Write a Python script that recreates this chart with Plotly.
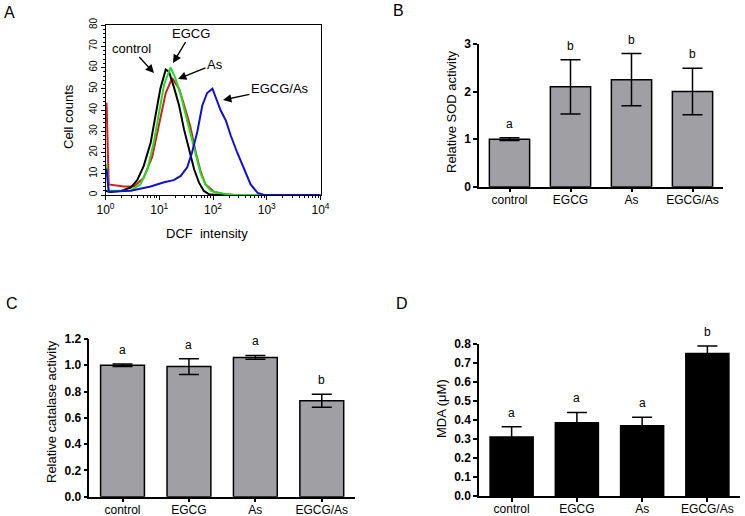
import numpy as np
import plotly.graph_objects as go

W, H = 745, 516

groups = ["control", "EGCG", "As", "EGCG/As"]

# Panel A: DCF flow cytometry histograms (log10 intensity, cell counts)
control_log = [0.0, 0.09, 0.30, 0.47, 0.59, 0.71, 0.84, 0.93, 1.02, 1.12, 1.18, 1.27, 1.37,
               1.46, 1.55, 1.65, 1.74, 1.83, 1.93, 2.1, 4.0]
control_cnt = [2, 1.4, 2, 3.5, 7, 13.6, 24.6, 37, 50, 59, 58, 51, 42, 31, 21.5, 12, 5.8, 1.9, 0.3, 0, 0]

as_log = [0.0, 0.02, 0.06, 0.34, 0.53, 0.71, 0.87, 0.99, 1.12, 1.24, 1.37, 1.49, 1.58,
          1.68, 1.77, 1.86, 2.02, 2.2, 2.4, 4.0]
as_cnt = [43, 43, 5, 4, 4, 8, 18, 33, 48, 55, 50, 40, 32, 20, 11, 5, 1.5, 0.5, 0, 0]

egcg_log = [0.0, 0.02, 0.06, 0.47, 0.65, 0.78, 0.90, 0.99, 1.09, 1.21, 1.30, 1.40, 1.49,
            1.58, 1.68, 1.77, 1.86, 1.96, 2.08, 2.2, 2.4, 4.0]
egcg_cnt = [14, 14, 2, 2, 5, 12, 25, 38, 52, 60, 55, 47, 38, 28, 18, 10, 5, 2, 1, 0.5, 0, 0]

combo_log = [0.0, 0.02, 0.06, 0.47, 0.84, 1.09, 1.27, 1.40, 1.52, 1.61, 1.71, 1.80, 1.89,
             1.99, 2.05, 2.14, 2.24, 2.33, 2.45, 2.58, 2.70, 2.83, 2.95, 4.0]
combo_cnt = [12, 12, 1.5, 2, 4, 6, 7, 9, 13, 20, 30, 42, 48, 50, 46, 40, 35, 28, 20, 12, 5, 1, 0, 0]

# Panel B: relative SOD activity
sod_mean = [1.0, 2.1, 2.25, 2.0]
sod_err = [0.03, 0.57, 0.55, 0.49]
sod_letters = ["a", "b", "b", "b"]
sod_ticks = [0, 1, 2, 3]

# Panel C: relative catalase activity
cat_mean = [1.0, 0.99, 1.06, 0.73]
cat_err = [0.01, 0.06, 0.015, 0.05]
cat_letters = ["a", "a", "a", "b"]
cat_ticks = [0.0, 0.2, 0.4, 0.6, 0.8, 1.0, 1.2]

# Panel D: MDA
mda_mean = [0.31, 0.385, 0.37, 0.75]
mda_err = [0.055, 0.055, 0.045, 0.04]
mda_letters = ["a", "a", "a", "b"]
mda_ticks = [0.0, 0.1, 0.2, 0.3, 0.4, 0.5, 0.6, 0.7, 0.8]

FONT = "Liberation Sans, Arial, sans-serif"
GREY = "#a0a0a4"


def px_x(p):
    return p / W


def px_y(p):
    return 1 - p / H


fig = go.Figure()

# histogram lines
hist = [
    (as_log, as_cnt, "#d81e1e", "As"),
    (control_log, control_cnt, "#000000", "control"),
    (egcg_log, egcg_cnt, "#1ee01e", "EGCG"),
    (combo_log, combo_cnt, "#1010d0", "EGCG/As"),
]
for logs, cnt, col, name in hist:
    fig.add_trace(go.Scatter(
        x=10 ** np.array(logs), y=cnt, mode="lines", name=name,
        line=dict(color=col, width=2), xaxis="x", yaxis="y",
    ))

# bar panels
bar_panels = [
    (sod_mean, sod_err, GREY, "x2", "y2"),
    (cat_mean, cat_err, GREY, "x3", "y3"),
    (mda_mean, mda_err, "#000000", "x4", "y4"),
]
for mean, err, col, xa, ya in bar_panels:
    fig.add_trace(go.Bar(
        x=groups, y=mean, marker=dict(color=col, line=dict(color="black", width=1.5)),
        width=0.66, xaxis=xa, yaxis=ya,
        error_y=dict(type="data", array=err, color="black", thickness=1.5, width=10),
    ))

annotations = []
letter_sets = [
    (sod_mean, sod_err, sod_letters, "x2", "y2"),
    (cat_mean, cat_err, cat_letters, "x3", "y3"),
    (mda_mean, mda_err, mda_letters, "x4", "y4"),
]
for mean, err, letters, xa, ya in letter_sets:
    for g, m, e, l in zip(groups, mean, err, letters):
        annotations.append(dict(
            x=g, y=m + e, xref=xa, yref=ya, text=l, showarrow=False,
            xanchor="center", yanchor="middle", yshift=14,
            font=dict(size=12, color="black", family=FONT),
        ))


def paper_text(t, x, y, size, angle=0):
    return dict(x=px_x(x), y=px_y(y), xref="paper", yref="paper", text=t,
                showarrow=False, textangle=angle, xanchor="center", yanchor="middle",
                font=dict(size=size, color="black", family=FONT))


# panel letters
for lbl, x, y in [("A", 9, 12), ("B", 398, 10), ("C", 12, 303), ("D", 402, 303)]:
    annotations.append(paper_text(lbl, x, y, 16))

# axis titles
for t, x, y, ang in [
    ("Cell counts", 69, 117, -90),
    ("DCF  intensity", 207, 234, 0),
    ("Relative SOD activity", 452, 112, -90),
    ("Relative catalase activity", 51, 412, -90),
    ("MDA (\u03bcM)", 441, 409, -90),
]:
    annotations.append(paper_text(t, x, y, 13, ang))

# histogram labels: text centre (cx, cy) with an arrow to its curve at (hx, hy)
for t, cx, cy, hx, hy in [
    ("control", 131, 48, 154, 73),
    ("EGCG", 191, 33, 173, 63),
    ("As", 215, 64, 178, 79),
    ("EGCG/As", 280, 88, 223, 100),
]:
    annotations.append(dict(x=px_x(hx), y=px_y(hy), xref="paper", yref="paper", text=t,
                            showarrow=True, ax=cx - hx, ay=cy - hy, arrowhead=2,
                            arrowsize=1.2, arrowwidth=1.4, arrowcolor="black",
                            font=dict(size=13, color="black", family=FONT)))

minor_vals = [m * 10 ** k for k in range(4) for m in range(2, 10)]

cat_font = dict(size=12, color="black", family=FONT)


def bar_x(dom, anchor):
    return dict(domain=dom, range=[-0.5, 3.5], showline=True, linecolor="black", linewidth=1.5,
                ticks="outside", ticklen=4, tickwidth=1.5, tickcolor="black",
                ticklabelstandoff=-3,
                tickfont=cat_font, showgrid=False, zeroline=False, automargin=False,
                anchor=anchor)


def bar_y(dom, ticks, fmt, anchor):
    return dict(domain=dom, range=[ticks[0], ticks[-1]], tickvals=ticks,
                ticktext=["<b>" + format(v, fmt) + "</b>" for v in ticks], showline=True,
                linecolor="black", linewidth=1.5, ticks="outside", ticklen=4, tickwidth=1.5,
                tickcolor="black", tickfont=dict(size=12, color="black", family=FONT),
                showgrid=False, zeroline=False, anchor=anchor, automargin=False)


fig.update_layout(
    width=W, height=H, margin=dict(l=0, r=0, t=0, b=0, autoexpand=False),
    paper_bgcolor="white", plot_bgcolor="white", showlegend=False,
    font=dict(family=FONT, color="black"),
    annotations=annotations,
    xaxis=dict(
        domain=[px_x(105.5), px_x(320.5)], type="log", range=[0, 4],
        tickvals=[1, 10, 100, 1000, 10000],
        ticktext=["10<sup>0</sup>", "10<sup>1</sup>", "10<sup>2</sup>", "10<sup>3</sup>", "10<sup>4</sup>"],
        ticks="outside", ticklen=4, tickcolor="black",
        minor=dict(tickvals=minor_vals, ticks="outside", ticklen=2, tickcolor="black"),
        showline=True, linecolor="black", linewidth=1, mirror=True,
        showgrid=False, zeroline=False, tickfont=dict(size=12, color="black", family=FONT),
        anchor="y", automargin=False,
    ),
    yaxis=dict(
        domain=[px_y(195), px_y(25)], range=[0, 80], dtick=10,
        ticks="outside", ticklen=4, tickcolor="black", tickangle=-90,
        minor=dict(dtick=2, ticks="outside", ticklen=2, tickcolor="black"),
        showline=True, linecolor="black", linewidth=1, mirror=True,
        showgrid=False, zeroline=False, tickfont=dict(size=10, color="black", family=FONT),
        anchor="x", automargin=False,
    ),
    xaxis2=bar_x([px_x(479), px_x(723)], "y2"),
    yaxis2=bar_y([px_y(186.7), px_y(44)], sod_ticks, "d", "x2"),
    xaxis3=bar_x([px_x(89.3), px_x(355)], "y3"),
    yaxis3=bar_y([px_y(496.7), px_y(339)], cat_ticks, ".1f", "x3"),
    xaxis4=bar_x([px_x(479), px_x(740)], "y4"),
    yaxis4=bar_y([px_y(496), px_y(344)], mda_ticks, ".1f", "x4"),
)

# drop the default page margin so the figure sits at the window's corner
fig.write_html("out.html", config={"displayModeBar": False},
               post_script="document.body.style.margin = '0';")
